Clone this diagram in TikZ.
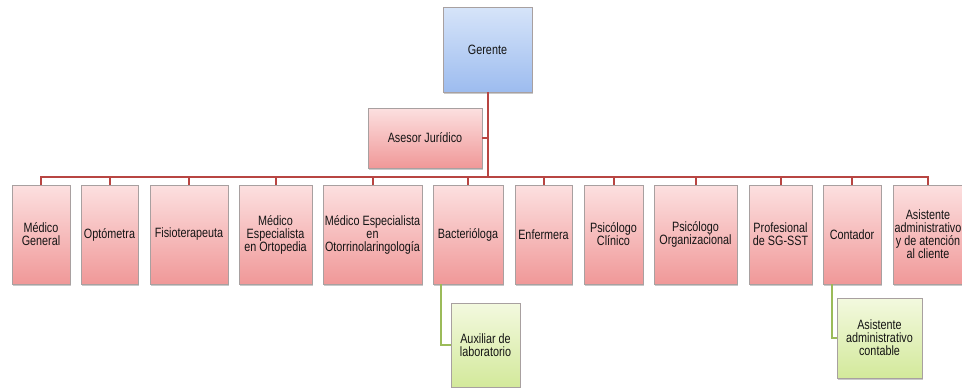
\documentclass[tikz,border=0pt]{standalone}
\usepackage{fontspec}
\setmainfont{Liberation Sans}[FakeStretch=0.8]
\usetikzlibrary{shadows}
\definecolor{pinkT}{HTML}{FCE0E0}
\definecolor{pinkB}{HTML}{F09898}
\definecolor{blueT}{HTML}{D6E4F9}
\definecolor{blueB}{HTML}{9DBCEF}
\definecolor{greenT}{HTML}{F3F9DF}
\definecolor{greenB}{HTML}{D3E99B}
\definecolor{redline}{HTML}{B84542}
\definecolor{greenline}{HTML}{9BBB59}
\definecolor{edgegray}{HTML}{A8A0A0}
\tikzset{
  box/.style={draw=edgegray, line width=0.6pt, align=center, inner sep=0pt,
    font=\fontsize{13.5}{13}\selectfont, text=black!92,
    drop shadow={shadow xshift=1.2pt, shadow yshift=-1.8pt, opacity=0.35, fill=black!60}},
  pinkbox/.style={box, top color=pinkT, bottom color=pinkB},
  bluebox/.style={box, top color=blueT, bottom color=blueB},
  greenbox/.style={box, top color=greenT, bottom color=greenB},
  rline/.style={draw=redline, line width=2pt},
  gline/.style={draw=greenline, line width=1.8pt}
}
\begin{document}
\begin{tikzpicture}[x=1pt,y=-1pt]
\useasboundingbox (0,0) rectangle (962,388);
\fill[white] (0,0) rectangle (962,388);
\coordinate (bus) at (0,177);
% top
\node[bluebox, minimum width=89pt, minimum height=85pt] (ger) at (487.5,49.5) {Gerente};
\node[pinkbox, minimum width=114pt, minimum height=60pt] (ase) at (425,138) {Asesor Jurídico};
% row
\node[pinkbox, minimum width=58pt, minimum height=99pt] (b1) at (41,234.5) {Médico\\General};
\node[pinkbox, minimum width=57pt, minimum height=99pt] (b2) at (109.5,234.5) {Optómetra};
\node[pinkbox, minimum width=78pt, minimum height=99pt] (b3) at (189,234.5) {Fisioterapeuta};
\node[pinkbox, minimum width=73pt, minimum height=99pt] (b4) at (275.5,234.5) {Médico\\Especialista\\en Ortopedia};
\node[pinkbox, minimum width=99pt, minimum height=99pt] (b5) at (372.5,234.5) {Médico Especialista\\en\\Otorrinolaringología};
\node[pinkbox, minimum width=70pt, minimum height=99pt] (b6) at (468,234.5) {Bacterióloga};
\node[pinkbox, minimum width=57pt, minimum height=99pt] (b7) at (543.5,234.5) {Enfermera};
\node[pinkbox, minimum width=59pt, minimum height=99pt] (b8) at (613.5,234.5) {Psicólogo\\Clínico};
\node[pinkbox, minimum width=83pt, minimum height=99pt] (b9) at (695.5,234.5) {Psicólogo\\Organizacional};
\node[pinkbox, minimum width=63pt, minimum height=99pt] (b10) at (780.5,234.5) {Profesional\\de SG-SST};
\node[pinkbox, minimum width=58pt, minimum height=99pt] (b11) at (852,234.5) {Contador};
\node[pinkbox, minimum width=70pt, minimum height=99pt] (b12) at (928,234.5) {Asistente\\administrativo\\y de atención\\al cliente};
% sub
\node[greenbox, minimum width=69pt, minimum height=84pt] (aux) at (485.5,345) {Auxiliar de\\laboratorio};
\node[greenbox, minimum width=85pt, minimum height=80pt] (asc) at (879.5,338) {Asistente\\administrativo\\contable};
% connectors
\draw[rline] (ger.south) -- (ger.south |- bus);
\draw[rline] (ase.east) -- (ase.east -| ger.south);
\draw[rline, line cap=rect] (b1.north |- bus) -- (b12.north |- bus);
\foreach \b in {b1,b2,b3,b4,b5,b6,b7,b8,b9,b10,b11,b12}{
  \draw[rline] (\b.north |- bus) -- (\b.north);
}
\coordinate (g1) at ([xshift=8pt]b6.south west);
\coordinate (g2) at ([xshift=9pt]b11.south west);
\draw[gline] (g1) |- (aux.west);
\draw[gline] (g2) |- (asc.west);
\end{tikzpicture}
\end{document}
